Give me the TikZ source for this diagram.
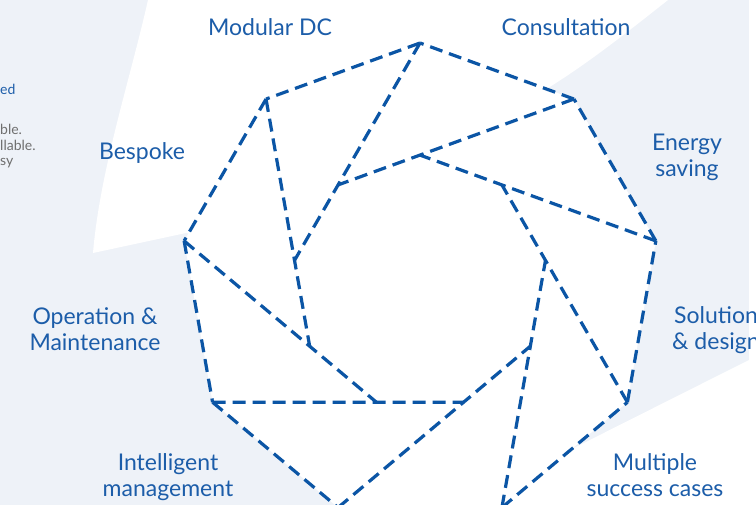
\documentclass[tikz,border=0pt]{standalone}
\usepackage{fontspec}
\setmainfont{Lato}
\usepackage{xcolor}
\usepackage{tikz}

\definecolor{bladeblue}{HTML}{0B55A5}
\definecolor{textblue}{HTML}{1C5DA9}
\definecolor{paleblue}{HTML}{EEF2F8}
\definecolor{notegrey}{HTML}{6F6F6F}

\begin{document}
\begin{tikzpicture}[x=1pt,y=-1pt,
  blade/.style={bladeblue,line width=3.2pt,dash pattern=on 13pt off 7pt},
  tag/.style={textblue,align=center,font=\fontsize{23}{26}\selectfont},
  aside/.style={notegrey,align=left,inner sep=0pt,font=\fontsize{14}{15.5}\selectfont}]
  \useasboundingbox (0,0) rectangle (756,505);
  \clip (0,0) rectangle (756,505);
  \fill[paleblue] (0,0) rectangle (756,505);
  % white parts of the background
  \fill[white] (148,0) .. controls (130,80) and (100,170) .. (93,253) -- (186,233) -- (420,282) -- (548,88) .. controls (590,62) and (630,30) .. (668,0) -- cycle;
  \fill[white] (749,0) -- (756,0) -- (756,505) -- (501,505) -- (420,282) -- (556,457) -- (749,360) -- cycle;
  % nonagon round (420,282.5), inner ring r = R/(2cos20)
  \begin{scope}[shift={(420,282.5)},yscale=-1]
    \foreach \i in {0,...,8} {
      \coordinate (o\i) at (90+40*\i:239.5);
      \coordinate (n\i) at (90+40*\i:127.4);
    }
    \fill[white] (o0) -- (o1) -- (o2) -- (o3) -- (o4) -- (o5) -- (o6) -- (o7) -- (o8) -- cycle;
    \foreach \i in {0,...,8} {
      \pgfmathtruncatemacro{\j}{mod(\i+1,9)}
      \pgfmathtruncatemacro{\k}{mod(\i+2,9)}
      \draw[blade] (o\i) -- (o\j);
      \draw[blade] (o\i) -- (n\k); % blade line ends on the next one
    }
  \end{scope}
  % labels
  \node[tag,anchor=base] (modular) at (270,36) {Modular DC};
  \node[tag,anchor=base] (consult) at (566,36) {Consultation};
  \node[tag] (energy) at (687,157) {Energy\\saving};
  \node[tag] (solution) at (716,330) {Solution\\\& design};
  \node[tag] (multiple) at (655,475) {Multiple\\success cases};
  \node[tag] (intelligent) at (168,477) {Intelligent\\management};
  \node[tag] (operation) at (95,329) {Operation \&\\Maintenance};
  \node[tag,anchor=base] (bespoke) at (142,160) {Bespoke};
  % cut-off text on the left
  \node[textblue,inner sep=0pt,anchor=base west,font=\fontsize{14}{15}\selectfont] (edfrag) at (0,95) {ed};
  \node[aside,anchor=north west] (notefrag) at (0,124) {ble.\\llable.\\sy};
\end{tikzpicture}
\end{document}
